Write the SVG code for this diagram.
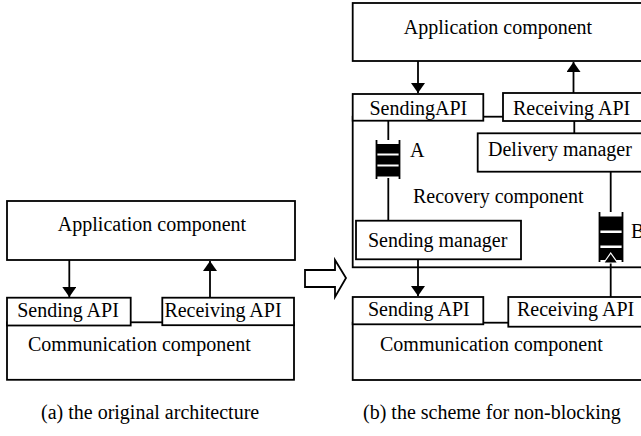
<svg xmlns="http://www.w3.org/2000/svg" width="641" height="436" viewBox="0 0 641 436">
<style>
  .box { fill: #ffffff; stroke: #000000; stroke-width: 1.8; }
  .ln { fill: none; stroke: #000000; stroke-width: 1.8; }
  .t { font-family: "Liberation Serif", "Times New Roman", serif; font-size: 20px; fill: #000000; }
  .m { text-anchor: middle; }
  .blk { fill: #000000; }
</style>
<defs>
  <marker id="ah" viewBox="0 0 10 14" refX="10" refY="7" markerWidth="10" markerHeight="14" markerUnits="userSpaceOnUse" orient="auto">
    <path d="M0,0 L10,7 L0,14 Z" fill="#000000"/>
  </marker>
  <marker id="ahw" viewBox="-2 -2 14 18" refX="10" refY="7" markerWidth="14" markerHeight="18" markerUnits="userSpaceOnUse" orient="auto">
    <path d="M0,0 L10,7 L0,14 Z" fill="#000000" stroke="#ffffff" stroke-width="1.2"/>
  </marker>
</defs>
<rect width="641" height="436" fill="#ffffff"/>

<!-- (a) original architecture -->
<g id="a-application">
  <rect class="box" x="7" y="201" width="288" height="59"/>
  <text class="t m" x="152" y="231">Application component</text>
</g>
<g id="a-communication">
  <rect class="box" x="7" y="322.3" width="287" height="57.5"/>
  <text class="t" x="28" y="351">Communication component</text>
</g>
<g id="a-sending-api">
  <rect class="box" x="7" y="297.7" width="123.7" height="27.8"/>
  <text class="t m" x="68" y="317">Sending API</text>
</g>
<g id="a-receiving-api">
  <rect class="box" x="162.3" y="297.7" width="131.7" height="27.5"/>
  <text class="t m" x="223" y="317">Receiving API</text>
</g>

<!-- transition arrow -->
<g id="transition-arrow">
  <path class="box" d="M305,270 L335,270 L335,260 L346,278 L335,297 L335,287 L305,287 Z"/>
</g>

<!-- (b) scheme for non-blocking -->
<g id="b-application">
  <rect class="box" x="352.7" y="3" width="292" height="58"/>
  <text class="t m" x="498" y="34">Application component</text>
</g>
<g id="b-recovery">
  <rect class="box" x="352.7" y="116.7" width="300" height="150.6"/>
  <text class="t" x="413" y="203">Recovery component</text>
</g>
<g id="b-sending-api-top">
  <rect class="box" x="352.7" y="94" width="130.6" height="26.7"/>
  <text class="t m" x="418.3" y="114.5">SendingAPI</text>
</g>
<g id="b-receiving-api-top">
  <rect class="box" x="503" y="93" width="150" height="28"/>
  <text class="t" x="513" y="114.5">Receiving API</text>
</g>
<g id="b-delivery-manager">
  <rect class="box" x="477.7" y="133.3" width="200" height="38.4"/>
  <text class="t" x="488" y="156">Delivery manager</text>
</g>
<g id="b-sending-manager">
  <rect class="box" x="356" y="220.7" width="165" height="38.6"/>
  <text class="t" x="368" y="246.5">Sending manager</text>
</g>
<g id="b-queue-a">
  <line class="ln" x1="376.5" y1="140" x2="376.5" y2="179"/>
  <line class="ln" x1="399.5" y1="140" x2="399.5" y2="179"/>
  <rect class="blk" x="376.5" y="144" width="23" height="9.5"/>
  <rect class="blk" x="376.5" y="155.5" width="23" height="9"/>
  <rect class="blk" x="376.5" y="166.5" width="23" height="10"/>
  <text class="t" x="410" y="157">A</text>
</g>
<g id="b-queue-b">
  <line class="ln" x1="599.5" y1="212" x2="599.5" y2="262"/>
  <line class="ln" x1="622.5" y1="212" x2="622.5" y2="262"/>
  <rect class="blk" x="599.5" y="216.5" width="23" height="14"/>
  <rect class="blk" x="599.5" y="233" width="23" height="12.5"/>
  <rect class="blk" x="599.5" y="248" width="23" height="12"/>
  <text class="t" x="631" y="238">B</text>
</g>
<g id="b-communication">
  <rect class="box" x="352.7" y="322.7" width="300" height="57.3"/>
  <text class="t" x="380" y="351">Communication component</text>
</g>
<g id="b-sending-api-bottom">
  <rect class="box" x="352.7" y="297" width="130.6" height="27.3"/>
  <text class="t" x="368" y="316">Sending API</text>
</g>
<g id="b-receiving-api-bottom">
  <rect class="box" x="508.3" y="297" width="150" height="29.7"/>
  <text class="t" x="517" y="316">Receiving API</text>
</g>

<!-- connectors -->
<g id="connectors">
  <line class="ln" x1="69.3" y1="260" x2="69.3" y2="297" marker-end="url(#ah)"/>
  <line class="ln" x1="210" y1="297.7" x2="210" y2="261" marker-end="url(#ah)"/>
  <line class="ln" x1="418" y1="61" x2="418" y2="93" marker-end="url(#ah)"/>
  <line class="ln" x1="573.5" y1="93" x2="573.5" y2="62" marker-end="url(#ah)"/>
  <line class="ln" x1="574.3" y1="121" x2="574.3" y2="133.3"/>
  <line class="ln" x1="388.3" y1="120.7" x2="388.3" y2="140"/>
  <line class="ln" x1="388.3" y1="178" x2="388.3" y2="220.7"/>
  <line class="ln" x1="610.7" y1="171.7" x2="610.7" y2="212"/>
  <line class="ln" x1="610.7" y1="297" x2="610.7" y2="253" marker-end="url(#ahw)"/>
  <line class="ln" x1="418" y1="259.3" x2="418" y2="296" marker-end="url(#ah)"/>
</g>

<text class="t" x="41" y="419">(a) the original architecture</text>
<text class="t" x="363" y="419">(b) the scheme for non-blocking</text>
</svg>
